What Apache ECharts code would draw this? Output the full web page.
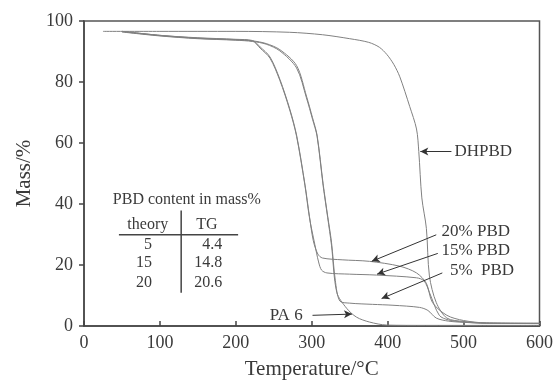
<!DOCTYPE html>
<html>
<head>
<meta charset="utf-8">
<script src="https://cdn.jsdelivr.net/npm/echarts@6/dist/echarts.min.js"></script>
<style>
html,body{margin:0;padding:0;background:#fff;}
#c{width:556px;height:385px;}
</style>
</head>
<body>
<div id="c"></div>
<script>
// ---- data (Temperature in °C, Mass in %) ----
var xTicks = [0, 100, 200, 300, 400, 500, 600];
var yTicks = [0, 20, 40, 60, 80, 100];

var dhpbdT = [25,100,200,271,314,350,375,389,399,408,416,429,438,441,445,451,455,464,478,500,530,600];
var dhpbdM = [96.6,96.6,96.6,96.3,95.5,94.2,93.0,91.4,89.0,85.8,81.7,72,64.6,57.2,42,32,16.4,7.7,2.6,1.5,1.0,0.9];

var p20T = [50,100,150,200,222,232,245,258,271,280,291,297,302,308,314,340,376,416,438,451,459,478,500,530,600];
var p20M = [96.6,95.3,94.5,94.0,93.6,91.5,88.2,80.9,71.2,62.6,46.5,35.9,28,23.6,22.3,21.7,21.2,19.6,17.4,14,7.7,3.5,1.8,1.0,0.9];

var p15T = [50,100,150,200,222,232,245,258,271,280,291,297,304,309,313,320,350,385,438,448,455,468,480,500,530,600];
var p15M = [96.5,95.2,94.3,93.8,93.4,91.1,87.8,80.5,70.8,62.2,46.1,35.5,26.8,21,18.3,17.4,17.0,16.7,15.8,14.8,11,3.5,2,1.3,0.9,0.8];

var p5T = [50,100,150,200,222,240,258,280,293,301,307,315,321,326,331,337,350,380,407,442,453,464,480,500,530,600];
var p5M = [96.6,95.3,94.4,93.9,93.5,92.6,90.6,85.4,75.4,68.3,62.6,46.6,36,27.5,15,8.2,7.5,7.1,6.8,6.1,5.1,2.6,1.6,1.2,0.9,0.8];

var pa6T = [50,100,150,200,222,240,258,280,293,301,307,315,321,326,333,346,359,376,399,450,520,600];
var pa6M = [96.4,95.1,94.2,93.7,93.3,92.4,90.2,84.6,74.8,67.8,62.2,46.0,35.5,26.5,11,5.8,2.9,1.3,0.3,0.2,0.2,0.2];

// annotation labels: [text, T, M] and arrows: [fromT, fromM, toT, toM]
var labelTexts = ['DHPBD', '20% PBD', '15% PBD', '5%  PBD', 'PA 6'];
var labelPos = [[488,57.2],[471,30.9],[471,24.8],[482,18.3],[288,3.5]];
var arrows = [[484,57.2,443,57.2],[464,29.9,379,21.2],[466,23.8,386,17.0],[472,17.4,392,9.0],[301,3.5,353,3.9]];

// table
var tableTitle = 'PBD content in mass%';
var tableHead = ['theory', 'TG'];
var theoryVals = ['5', '15', '20'];
var tgVals = ['4.4', '14.8', '20.6'];

function zip(a, b) { return a.map(function (v, i) { return [v, b[i]]; }); }

var FONT = 'Liberation Serif';
var TXT = '#3a3a3a';
var LINE = '#808080';

var chart = echarts.init(document.getElementById('c'), null, {renderer: 'canvas'});

function lineSeries(name, T, M) {
  return {
    name: name, type: 'line', data: zip(T, M), showSymbol: false,
    smooth: 0.3,
    lineStyle: {color: LINE, width: 1}, z: 3, animation: false
  };
}

var arrowSeries = {
  type: 'line', data: [], silent: true, animation: false,
  markLine: {
    silent: true, animation: false,
    symbol: ['none', 'arrow'], symbolSize: [6, 8],
    label: {show: false},
    lineStyle: {color: '#333', width: 1, type: 'solid'},
    data: arrows.map(function (a) { return [{coord: [a[0], a[1]]}, {coord: [a[2], a[3]]}]; })
  }
};

chart.setOption({
  animation: false,
  grid: {left: 84, right: 16, top: 21, bottom: 54, show: true, borderColor: '#555', borderWidth: 1.5},
  xAxis: {
    type: 'value', min: 0, max: 600, interval: 100,
    name: 'Temperature/°C', nameLocation: 'middle', nameGap: 33,
    nameTextStyle: {fontFamily: FONT, fontSize: 21, color: TXT},
    axisLine: {show: true, lineStyle: {color: '#444', width: 1.5}},
    axisTick: {show: true, inside: true, length: 5, lineStyle: {color: '#444', width: 1.5}},
    axisLabel: {fontFamily: FONT, fontSize: 18, color: TXT, margin: 8},
    splitLine: {show: false}
  },
  yAxis: {
    type: 'value', min: 0, max: 100, interval: 20,
    name: 'Mass/%', nameLocation: 'middle', nameGap: 47,
    nameTextStyle: {fontFamily: FONT, fontSize: 21, color: TXT},
    axisLine: {show: true, lineStyle: {color: '#444', width: 1.5}},
    axisTick: {show: true, inside: false, length: 5, lineStyle: {color: '#444', width: 1.5}},
    axisLabel: {fontFamily: FONT, fontSize: 18, color: TXT, margin: 11},
    splitLine: {show: false}
  },
  series: [
    lineSeries('DHPBD', dhpbdT, dhpbdM),
    lineSeries('20% PBD', p20T, p20M),
    lineSeries('15% PBD', p15T, p15M),
    lineSeries('5% PBD', p5T, p5M),
    lineSeries('PA 6', pa6T, pa6M),
    arrowSeries
  ]
});

function px(T, M) { return chart.convertToPixel({gridIndex: 0}, [T, M]); }

var g = [];
labelTexts.forEach(function (t, i) {
  var p = px(labelPos[i][0], labelPos[i][1]);
  var isPA = (t === 'PA 6');
  g.push({type: 'text', x: p[0], y: p[1], style: {
    text: t, font: '17px "' + FONT + '"', fill: TXT,
    textAlign: isPA ? 'right' : 'left', textVerticalAlign: 'middle'}});
});

// table
var tp = px(38, 41.5);
g.push({type: 'text', x: tp[0], y: tp[1], style: {text: tableTitle, font: '16px "' + FONT + '"', fill: TXT, textAlign: 'left', textVerticalAlign: 'middle'}});
var h1 = px(84, 33.1), h2 = px(162, 33.1);
g.push({type: 'text', x: h1[0], y: h1[1], style: {text: tableHead[0], font: '16px "' + FONT + '"', fill: TXT, textAlign: 'center', textVerticalAlign: 'middle'}});
g.push({type: 'text', x: h2[0], y: h2[1], style: {text: tableHead[1], font: '16px "' + FONT + '"', fill: TXT, textAlign: 'center', textVerticalAlign: 'middle'}});
var hl1 = px(46, 29.9), hl2 = px(203, 29.9);
g.push({type: 'line', shape: {x1: hl1[0], y1: hl1[1], x2: hl2[0], y2: hl2[1]}, style: {stroke: '#444', lineWidth: 1.5}});
var vl1 = px(128, 37.9), vl2 = px(128, 10.9);
g.push({type: 'line', shape: {x1: vl1[0], y1: vl1[1], x2: vl2[0], y2: vl2[1]}, style: {stroke: '#444', lineWidth: 1.5}});
var rowM = [26.7, 20.6, 14.1];
rowM.forEach(function (m, i) {
  var a = px(89.5, m), b = px(182, m);
  g.push({type: 'text', x: a[0], y: a[1], style: {text: theoryVals[i], font: '16px "' + FONT + '"', fill: TXT, textAlign: 'right', textVerticalAlign: 'middle'}});
  g.push({type: 'text', x: b[0], y: b[1], style: {text: tgVals[i], font: '16px "' + FONT + '"', fill: TXT, textAlign: 'right', textVerticalAlign: 'middle'}});
});

chart.setOption({graphic: g});
</script>
</body>
</html>
